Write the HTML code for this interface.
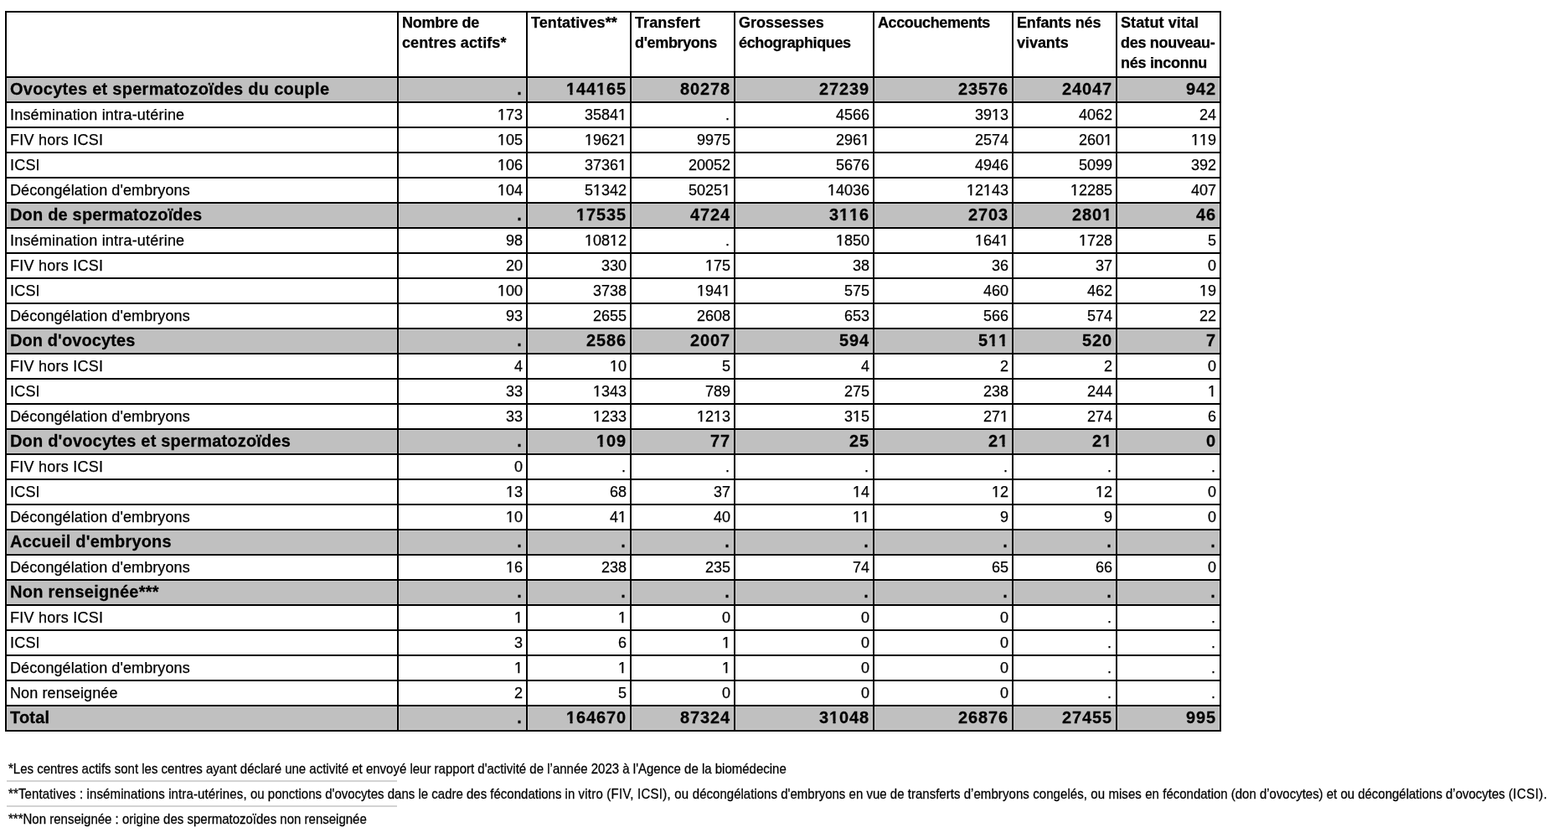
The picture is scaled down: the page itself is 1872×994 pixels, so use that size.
<!DOCTYPE html>
<html lang="fr">
<head>
<meta charset="utf-8">
<title>Tableau AMP</title>
<style>
html,body{margin:0;padding:0;background:#fff;}
body{width:1872px;height:994px;overflow:hidden;position:relative;font-family:"Liberation Sans",Arial,Helvetica,sans-serif;color:#000;-webkit-text-stroke:0.25px #000;}
table.t{position:absolute;left:6px;top:13px;border-collapse:collapse;table-layout:fixed;width:1452px;}
table.t td,table.t th{border:2px solid #000;padding:0 4px 0 4px;font-size:18px;line-height:24px;height:30px;box-sizing:border-box;white-space:nowrap;overflow:hidden;letter-spacing:0.2px;}
table.t th{text-align:left;vertical-align:top;font-weight:bold;height:78px;padding-top:0px;letter-spacing:0.1px;}
table.t td{text-align:right;vertical-align:top;padding-top:2px;}
table.t td.l{text-align:left;}
table.t td.num{letter-spacing:0px;font-kerning:none;}
table.t tr.g td{background:#c0c0c0;box-shadow:inset 0 0 0 1px #c9c9c9;font-weight:bold;font-size:20px;letter-spacing:0.2px;padding-top:1px;}
table.t tr.g td .s{display:inline-block;transform:scaleY(1.04);transform-origin:0 19px;}
table.t td.d{padding-right:5px;}
table.t tr.g td.d{padding-right:4.4px;}
table.t tr.g td.num{letter-spacing:0.88px;}
.o{display:inline-block;}
.f{transform:scaleY(1.0667);transform-origin:0 15px;position:absolute;left:10px;font-size:15px;line-height:20px;white-space:nowrap;letter-spacing:0px;}
.ln{position:absolute;left:8px;width:466px;height:2px;background:#d3d3d3;}
</style>
</head>
<body>
<table class="t">
<colgroup><col style="width:468px"><col style="width:154px"><col style="width:124px"><col style="width:124px"><col style="width:166px"><col style="width:166px"><col style="width:124px"><col style="width:124px"></colgroup>
<thead><tr><th></th><th><span style="letter-spacing:-0.22px">Nombre de</span><br>centres actifs*</th><th>Tentatives**</th><th>Transfert<br><span style="letter-spacing:-0.35px">d'embryons</span></th><th><span style="letter-spacing:-0.03px">Grossesses</span><br><span style="letter-spacing:-0.38px">échographiques</span></th><th><span style="letter-spacing:-0.39px">Accouchements</span></th><th><span style="letter-spacing:-0.16px">Enfants nés</span><br><span style="letter-spacing:-0.04px">vivants</span></th><th>Statut vital<br><span style="letter-spacing:-0.3px">des nouveau-</span><br><span style="letter-spacing:-0.28px">nés inconnu</span></th></tr></thead>
<tbody>
<tr class="g"><td class="l" style="letter-spacing:0.28px"><span class="s">Ovocytes et spermatozoïdes du couple</span></td><td class="num d">.</td><td class="num"><span class="s" style="clip-path:polygon(0px 0px,72.09px 0px,72.09px 24px,48.06px 24px,48.06px 16.1px,43.67px 16.1px,43.67px 24px,40.6px 24px,40.6px 16.1px,36.05px 16.1px,36.05px 24px,12.02px 24px,12.02px 16.1px,7.62px 16.1px,7.62px 24px,4.55px 24px,4.55px 16.1px,0px 16.1px,0px 24px)">144165</span></td><td class="num"><span class="s">80278</span></td><td class="num"><span class="s">27239</span></td><td class="num"><span class="s">23576</span></td><td class="num"><span class="s">24047</span></td><td class="num"><span class="s">942</span></td></tr>
<tr><td class="l">Insémination intra-utérine</td><td class="num"><span class="o" style="clip-path:polygon(0px 0px,30.05px 0px,30.05px 24px,10.02px 24px,10.02px 16px,6.37px 16px,6.37px 24px,4.4px 24px,4.4px 16px,0px 16px,0px 24px)">173</span></td><td class="num"><span class="o" style="clip-path:polygon(0px 0px,50.08px 0px,50.08px 24px,50.08px 16px,46.43px 16px,46.43px 24px,44.46px 24px,44.46px 16px,40.06px 16px,40.06px 24px,0px 24px)">35841</span></td><td class="num d">.</td><td class="num">4566</td><td class="num"><span class="o" style="clip-path:polygon(0px 0px,40.06px 0px,40.06px 24px,30.05px 24px,30.05px 16px,26.4px 16px,26.4px 24px,24.43px 24px,24.43px 16px,20.03px 16px,20.03px 24px,0px 24px)">3913</span></td><td class="num">4062</td><td class="num">24</td></tr>
<tr><td class="l" style="letter-spacing:0.25px">FIV hors ICSI</td><td class="num"><span class="o" style="clip-path:polygon(0px 0px,30.05px 0px,30.05px 24px,10.02px 24px,10.02px 16px,6.37px 16px,6.37px 24px,4.4px 24px,4.4px 16px,0px 16px,0px 24px)">105</span></td><td class="num"><span class="o" style="clip-path:polygon(0px 0px,50.08px 0px,50.08px 24px,50.08px 16px,46.43px 16px,46.43px 24px,44.46px 24px,44.46px 16px,40.06px 16px,40.06px 24px,10.02px 24px,10.02px 16px,6.37px 16px,6.37px 24px,4.4px 24px,4.4px 16px,0px 16px,0px 24px)">19621</span></td><td class="num">9975</td><td class="num"><span class="o" style="clip-path:polygon(0px 0px,40.06px 0px,40.06px 24px,40.06px 16px,36.42px 16px,36.42px 24px,34.45px 24px,34.45px 16px,30.05px 16px,30.05px 24px,0px 24px)">2961</span></td><td class="num">2574</td><td class="num"><span class="o" style="clip-path:polygon(0px 0px,40.06px 0px,40.06px 24px,40.06px 16px,36.42px 16px,36.42px 24px,34.45px 24px,34.45px 16px,30.05px 16px,30.05px 24px,0px 24px)">2601</span></td><td class="num"><span class="o" style="clip-path:polygon(0px 0px,30.05px 0px,30.05px 24px,20.03px 24px,20.03px 16px,16.39px 16px,16.39px 24px,14.42px 24px,14.42px 16px,10.02px 16px,10.02px 24px,10.02px 16px,6.37px 16px,6.37px 24px,4.4px 24px,4.4px 16px,0px 16px,0px 24px)">119</span></td></tr>
<tr><td class="l">ICSI</td><td class="num"><span class="o" style="clip-path:polygon(0px 0px,30.05px 0px,30.05px 24px,10.02px 24px,10.02px 16px,6.37px 16px,6.37px 24px,4.4px 24px,4.4px 16px,0px 16px,0px 24px)">106</span></td><td class="num"><span class="o" style="clip-path:polygon(0px 0px,50.08px 0px,50.08px 24px,50.08px 16px,46.43px 16px,46.43px 24px,44.46px 24px,44.46px 16px,40.06px 16px,40.06px 24px,0px 24px)">37361</span></td><td class="num">20052</td><td class="num">5676</td><td class="num">4946</td><td class="num">5099</td><td class="num">392</td></tr>
<tr><td class="l" style="letter-spacing:0.09px">Décongélation d'embryons</td><td class="num"><span class="o" style="clip-path:polygon(0px 0px,30.05px 0px,30.05px 24px,10.02px 24px,10.02px 16px,6.37px 16px,6.37px 24px,4.4px 24px,4.4px 16px,0px 16px,0px 24px)">104</span></td><td class="num"><span class="o" style="clip-path:polygon(0px 0px,50.08px 0px,50.08px 24px,20.03px 24px,20.03px 16px,16.39px 16px,16.39px 24px,14.42px 24px,14.42px 16px,10.02px 16px,10.02px 24px,0px 24px)">51342</span></td><td class="num"><span class="o" style="clip-path:polygon(0px 0px,50.08px 0px,50.08px 24px,50.08px 16px,46.43px 16px,46.43px 24px,44.46px 24px,44.46px 16px,40.06px 16px,40.06px 24px,0px 24px)">50251</span></td><td class="num"><span class="o" style="clip-path:polygon(0px 0px,50.08px 0px,50.08px 24px,10.02px 24px,10.02px 16px,6.37px 16px,6.37px 24px,4.4px 24px,4.4px 16px,0px 16px,0px 24px)">14036</span></td><td class="num"><span class="o" style="clip-path:polygon(0px 0px,50.08px 0px,50.08px 24px,30.05px 24px,30.05px 16px,26.4px 16px,26.4px 24px,24.43px 24px,24.43px 16px,20.03px 16px,20.03px 24px,10.02px 24px,10.02px 16px,6.37px 16px,6.37px 24px,4.4px 24px,4.4px 16px,0px 16px,0px 24px)">12143</span></td><td class="num"><span class="o" style="clip-path:polygon(0px 0px,50.08px 0px,50.08px 24px,10.02px 24px,10.02px 16px,6.37px 16px,6.37px 24px,4.4px 24px,4.4px 16px,0px 16px,0px 24px)">12285</span></td><td class="num">407</td></tr>
<tr class="g"><td class="l" style="letter-spacing:0.18px"><span class="s">Don de spermatozoïdes</span></td><td class="num d">.</td><td class="num"><span class="s" style="clip-path:polygon(0px 0px,60.08px 0px,60.08px 24px,12.02px 24px,12.02px 16.1px,7.62px 16.1px,7.62px 24px,4.55px 24px,4.55px 16.1px,0px 16.1px,0px 24px)">17535</span></td><td class="num"><span class="s">4724</span></td><td class="num"><span class="s" style="clip-path:polygon(0px 0px,48.06px 0px,48.06px 24px,36.05px 24px,36.05px 16.1px,31.65px 16.1px,31.65px 24px,28.58px 24px,28.58px 16.1px,24.03px 16.1px,24.03px 24px,24.03px 16.1px,19.64px 16.1px,19.64px 24px,16.57px 24px,16.57px 16.1px,12.02px 16.1px,12.02px 24px,0px 24px)">3116</span></td><td class="num"><span class="s">2703</span></td><td class="num"><span class="s" style="clip-path:polygon(0px 0px,48.06px 0px,48.06px 24px,48.06px 16.1px,43.67px 16.1px,43.67px 24px,40.6px 24px,40.6px 16.1px,36.05px 16.1px,36.05px 24px,0px 24px)">2801</span></td><td class="num"><span class="s">46</span></td></tr>
<tr><td class="l">Insémination intra-utérine</td><td class="num">98</td><td class="num"><span class="o" style="clip-path:polygon(0px 0px,50.08px 0px,50.08px 24px,40.06px 24px,40.06px 16px,36.42px 16px,36.42px 24px,34.45px 24px,34.45px 16px,30.05px 16px,30.05px 24px,10.02px 24px,10.02px 16px,6.37px 16px,6.37px 24px,4.4px 24px,4.4px 16px,0px 16px,0px 24px)">10812</span></td><td class="num d">.</td><td class="num"><span class="o" style="clip-path:polygon(0px 0px,40.06px 0px,40.06px 24px,10.02px 24px,10.02px 16px,6.37px 16px,6.37px 24px,4.4px 24px,4.4px 16px,0px 16px,0px 24px)">1850</span></td><td class="num"><span class="o" style="clip-path:polygon(0px 0px,40.06px 0px,40.06px 24px,40.06px 16px,36.42px 16px,36.42px 24px,34.45px 24px,34.45px 16px,30.05px 16px,30.05px 24px,10.02px 24px,10.02px 16px,6.37px 16px,6.37px 24px,4.4px 24px,4.4px 16px,0px 16px,0px 24px)">1641</span></td><td class="num"><span class="o" style="clip-path:polygon(0px 0px,40.06px 0px,40.06px 24px,10.02px 24px,10.02px 16px,6.37px 16px,6.37px 24px,4.4px 24px,4.4px 16px,0px 16px,0px 24px)">1728</span></td><td class="num">5</td></tr>
<tr><td class="l" style="letter-spacing:0.25px">FIV hors ICSI</td><td class="num">20</td><td class="num">330</td><td class="num"><span class="o" style="clip-path:polygon(0px 0px,30.05px 0px,30.05px 24px,10.02px 24px,10.02px 16px,6.37px 16px,6.37px 24px,4.4px 24px,4.4px 16px,0px 16px,0px 24px)">175</span></td><td class="num">38</td><td class="num">36</td><td class="num">37</td><td class="num">0</td></tr>
<tr><td class="l">ICSI</td><td class="num"><span class="o" style="clip-path:polygon(0px 0px,30.05px 0px,30.05px 24px,10.02px 24px,10.02px 16px,6.37px 16px,6.37px 24px,4.4px 24px,4.4px 16px,0px 16px,0px 24px)">100</span></td><td class="num">3738</td><td class="num"><span class="o" style="clip-path:polygon(0px 0px,40.06px 0px,40.06px 24px,40.06px 16px,36.42px 16px,36.42px 24px,34.45px 24px,34.45px 16px,30.05px 16px,30.05px 24px,10.02px 24px,10.02px 16px,6.37px 16px,6.37px 24px,4.4px 24px,4.4px 16px,0px 16px,0px 24px)">1941</span></td><td class="num">575</td><td class="num">460</td><td class="num">462</td><td class="num"><span class="o" style="clip-path:polygon(0px 0px,20.03px 0px,20.03px 24px,10.02px 24px,10.02px 16px,6.37px 16px,6.37px 24px,4.4px 24px,4.4px 16px,0px 16px,0px 24px)">19</span></td></tr>
<tr><td class="l" style="letter-spacing:0.09px">Décongélation d'embryons</td><td class="num">93</td><td class="num">2655</td><td class="num">2608</td><td class="num">653</td><td class="num">566</td><td class="num">574</td><td class="num">22</td></tr>
<tr class="g"><td class="l" style="letter-spacing:0.09px"><span class="s">Don d'ovocytes</span></td><td class="num d">.</td><td class="num"><span class="s">2586</span></td><td class="num"><span class="s">2007</span></td><td class="num"><span class="s">594</span></td><td class="num"><span class="s" style="clip-path:polygon(0px 0px,36.05px 0px,36.05px 24px,36.05px 16.1px,31.65px 16.1px,31.65px 24px,28.58px 24px,28.58px 16.1px,24.03px 16.1px,24.03px 24px,24.03px 16.1px,19.64px 16.1px,19.64px 24px,16.57px 24px,16.57px 16.1px,12.02px 16.1px,12.02px 24px,0px 24px)">511</span></td><td class="num"><span class="s">520</span></td><td class="num"><span class="s">7</span></td></tr>
<tr><td class="l" style="letter-spacing:0.25px">FIV hors ICSI</td><td class="num">4</td><td class="num"><span class="o" style="clip-path:polygon(0px 0px,20.03px 0px,20.03px 24px,10.02px 24px,10.02px 16px,6.37px 16px,6.37px 24px,4.4px 24px,4.4px 16px,0px 16px,0px 24px)">10</span></td><td class="num">5</td><td class="num">4</td><td class="num">2</td><td class="num">2</td><td class="num">0</td></tr>
<tr><td class="l">ICSI</td><td class="num">33</td><td class="num"><span class="o" style="clip-path:polygon(0px 0px,40.06px 0px,40.06px 24px,10.02px 24px,10.02px 16px,6.37px 16px,6.37px 24px,4.4px 24px,4.4px 16px,0px 16px,0px 24px)">1343</span></td><td class="num">789</td><td class="num">275</td><td class="num">238</td><td class="num">244</td><td class="num"><span class="o" style="clip-path:polygon(0px 0px,10.02px 0px,10.02px 24px,10.02px 16px,6.37px 16px,6.37px 24px,4.4px 24px,4.4px 16px,0px 16px,0px 24px)">1</span></td></tr>
<tr><td class="l" style="letter-spacing:0.09px">Décongélation d'embryons</td><td class="num">33</td><td class="num"><span class="o" style="clip-path:polygon(0px 0px,40.06px 0px,40.06px 24px,10.02px 24px,10.02px 16px,6.37px 16px,6.37px 24px,4.4px 24px,4.4px 16px,0px 16px,0px 24px)">1233</span></td><td class="num"><span class="o" style="clip-path:polygon(0px 0px,40.06px 0px,40.06px 24px,30.05px 24px,30.05px 16px,26.4px 16px,26.4px 24px,24.43px 24px,24.43px 16px,20.03px 16px,20.03px 24px,10.02px 24px,10.02px 16px,6.37px 16px,6.37px 24px,4.4px 24px,4.4px 16px,0px 16px,0px 24px)">1213</span></td><td class="num"><span class="o" style="clip-path:polygon(0px 0px,30.05px 0px,30.05px 24px,20.03px 24px,20.03px 16px,16.39px 16px,16.39px 24px,14.42px 24px,14.42px 16px,10.02px 16px,10.02px 24px,0px 24px)">315</span></td><td class="num"><span class="o" style="clip-path:polygon(0px 0px,30.05px 0px,30.05px 24px,30.05px 16px,26.4px 16px,26.4px 24px,24.43px 24px,24.43px 16px,20.03px 16px,20.03px 24px,0px 24px)">271</span></td><td class="num">274</td><td class="num">6</td></tr>
<tr class="g"><td class="l" style="letter-spacing:0.18px"><span class="s">Don d'ovocytes et spermatozoïdes</span></td><td class="num d">.</td><td class="num"><span class="s" style="clip-path:polygon(0px 0px,36.05px 0px,36.05px 24px,12.02px 24px,12.02px 16.1px,7.62px 16.1px,7.62px 24px,4.55px 24px,4.55px 16.1px,0px 16.1px,0px 24px)">109</span></td><td class="num"><span class="s">77</span></td><td class="num"><span class="s">25</span></td><td class="num"><span class="s" style="clip-path:polygon(0px 0px,24.03px 0px,24.03px 24px,24.03px 16.1px,19.64px 16.1px,19.64px 24px,16.57px 24px,16.57px 16.1px,12.02px 16.1px,12.02px 24px,0px 24px)">21</span></td><td class="num"><span class="s" style="clip-path:polygon(0px 0px,24.03px 0px,24.03px 24px,24.03px 16.1px,19.64px 16.1px,19.64px 24px,16.57px 24px,16.57px 16.1px,12.02px 16.1px,12.02px 24px,0px 24px)">21</span></td><td class="num"><span class="s">0</span></td></tr>
<tr><td class="l" style="letter-spacing:0.25px">FIV hors ICSI</td><td class="num">0</td><td class="num d">.</td><td class="num d">.</td><td class="num d">.</td><td class="num d">.</td><td class="num d">.</td><td class="num d">.</td></tr>
<tr><td class="l">ICSI</td><td class="num"><span class="o" style="clip-path:polygon(0px 0px,20.03px 0px,20.03px 24px,10.02px 24px,10.02px 16px,6.37px 16px,6.37px 24px,4.4px 24px,4.4px 16px,0px 16px,0px 24px)">13</span></td><td class="num">68</td><td class="num">37</td><td class="num"><span class="o" style="clip-path:polygon(0px 0px,20.03px 0px,20.03px 24px,10.02px 24px,10.02px 16px,6.37px 16px,6.37px 24px,4.4px 24px,4.4px 16px,0px 16px,0px 24px)">14</span></td><td class="num"><span class="o" style="clip-path:polygon(0px 0px,20.03px 0px,20.03px 24px,10.02px 24px,10.02px 16px,6.37px 16px,6.37px 24px,4.4px 24px,4.4px 16px,0px 16px,0px 24px)">12</span></td><td class="num"><span class="o" style="clip-path:polygon(0px 0px,20.03px 0px,20.03px 24px,10.02px 24px,10.02px 16px,6.37px 16px,6.37px 24px,4.4px 24px,4.4px 16px,0px 16px,0px 24px)">12</span></td><td class="num">0</td></tr>
<tr><td class="l" style="letter-spacing:0.09px">Décongélation d'embryons</td><td class="num"><span class="o" style="clip-path:polygon(0px 0px,20.03px 0px,20.03px 24px,10.02px 24px,10.02px 16px,6.37px 16px,6.37px 24px,4.4px 24px,4.4px 16px,0px 16px,0px 24px)">10</span></td><td class="num"><span class="o" style="clip-path:polygon(0px 0px,20.03px 0px,20.03px 24px,20.03px 16px,16.39px 16px,16.39px 24px,14.42px 24px,14.42px 16px,10.02px 16px,10.02px 24px,0px 24px)">41</span></td><td class="num">40</td><td class="num"><span class="o" style="clip-path:polygon(0px 0px,20.03px 0px,20.03px 24px,20.03px 16px,16.39px 16px,16.39px 24px,14.42px 24px,14.42px 16px,10.02px 16px,10.02px 24px,10.02px 16px,6.37px 16px,6.37px 24px,4.4px 24px,4.4px 16px,0px 16px,0px 24px)">11</span></td><td class="num">9</td><td class="num">9</td><td class="num">0</td></tr>
<tr class="g"><td class="l" style="letter-spacing:0.2px"><span class="s">Accueil d'embryons</span></td><td class="num d">.</td><td class="num d">.</td><td class="num d">.</td><td class="num d">.</td><td class="num d">.</td><td class="num d">.</td><td class="num d">.</td></tr>
<tr><td class="l" style="letter-spacing:0.09px">Décongélation d'embryons</td><td class="num"><span class="o" style="clip-path:polygon(0px 0px,20.03px 0px,20.03px 24px,10.02px 24px,10.02px 16px,6.37px 16px,6.37px 24px,4.4px 24px,4.4px 16px,0px 16px,0px 24px)">16</span></td><td class="num">238</td><td class="num">235</td><td class="num">74</td><td class="num">65</td><td class="num">66</td><td class="num">0</td></tr>
<tr class="g"><td class="l" style="letter-spacing:0.26px"><span class="s">Non renseignée***</span></td><td class="num d">.</td><td class="num d">.</td><td class="num d">.</td><td class="num d">.</td><td class="num d">.</td><td class="num d">.</td><td class="num d">.</td></tr>
<tr><td class="l" style="letter-spacing:0.25px">FIV hors ICSI</td><td class="num"><span class="o" style="clip-path:polygon(0px 0px,10.02px 0px,10.02px 24px,10.02px 16px,6.37px 16px,6.37px 24px,4.4px 24px,4.4px 16px,0px 16px,0px 24px)">1</span></td><td class="num"><span class="o" style="clip-path:polygon(0px 0px,10.02px 0px,10.02px 24px,10.02px 16px,6.37px 16px,6.37px 24px,4.4px 24px,4.4px 16px,0px 16px,0px 24px)">1</span></td><td class="num">0</td><td class="num">0</td><td class="num">0</td><td class="num d">.</td><td class="num d">.</td></tr>
<tr><td class="l">ICSI</td><td class="num">3</td><td class="num">6</td><td class="num"><span class="o" style="clip-path:polygon(0px 0px,10.02px 0px,10.02px 24px,10.02px 16px,6.37px 16px,6.37px 24px,4.4px 24px,4.4px 16px,0px 16px,0px 24px)">1</span></td><td class="num">0</td><td class="num">0</td><td class="num d">.</td><td class="num d">.</td></tr>
<tr><td class="l" style="letter-spacing:0.09px">Décongélation d'embryons</td><td class="num"><span class="o" style="clip-path:polygon(0px 0px,10.02px 0px,10.02px 24px,10.02px 16px,6.37px 16px,6.37px 24px,4.4px 24px,4.4px 16px,0px 16px,0px 24px)">1</span></td><td class="num"><span class="o" style="clip-path:polygon(0px 0px,10.02px 0px,10.02px 24px,10.02px 16px,6.37px 16px,6.37px 24px,4.4px 24px,4.4px 16px,0px 16px,0px 24px)">1</span></td><td class="num"><span class="o" style="clip-path:polygon(0px 0px,10.02px 0px,10.02px 24px,10.02px 16px,6.37px 16px,6.37px 24px,4.4px 24px,4.4px 16px,0px 16px,0px 24px)">1</span></td><td class="num">0</td><td class="num">0</td><td class="num d">.</td><td class="num d">.</td></tr>
<tr><td class="l" style="letter-spacing:0.1px">Non renseignée</td><td class="num">2</td><td class="num">5</td><td class="num">0</td><td class="num">0</td><td class="num">0</td><td class="num d">.</td><td class="num d">.</td></tr>
<tr class="g"><td class="l"><span class="s">Total</span></td><td class="num d">.</td><td class="num"><span class="s" style="clip-path:polygon(0px 0px,72.09px 0px,72.09px 24px,12.02px 24px,12.02px 16.1px,7.62px 16.1px,7.62px 24px,4.55px 24px,4.55px 16.1px,0px 16.1px,0px 24px)">164670</span></td><td class="num"><span class="s">87324</span></td><td class="num"><span class="s" style="clip-path:polygon(0px 0px,60.08px 0px,60.08px 24px,24.03px 24px,24.03px 16.1px,19.64px 16.1px,19.64px 24px,16.57px 24px,16.57px 16.1px,12.02px 16.1px,12.02px 24px,0px 24px)">31048</span></td><td class="num"><span class="s">26876</span></td><td class="num"><span class="s">27455</span></td><td class="num"><span class="s">995</span></td></tr>
</tbody></table>
<div class="f" style="top:908px">*Les centres actifs sont les centres ayant déclaré une activité et envoyé leur rapport d'activité de l’année 2023 à l'Agence de la biomédecine</div>
<div class="f" style="top:938px"><span style="letter-spacing:0.122px">**Tentatives : inséminations intra-utérines, </span>ou ponctions d'ovocytes dans le cadre des fécondations in <span style="letter-spacing:0.24px">vitro (FIV, ICSI), ou </span><span style="letter-spacing:0.015px">décongélations d'embryons en vue de transferts </span><span style="letter-spacing:0.076px">d’embryons congelés, ou mises en </span><span style="letter-spacing:-0.016px">fécondation (don d’ovocytes) et ou décongélations d’ovocytes </span><span style="letter-spacing:0.45px">(ICSI).</span></div>
<div class="f" style="top:968px">***Non renseignée : origine des spermatozoïdes non renseignée</div>
<div class="ln" style="top:931px"></div>
<div class="ln" style="top:961px"></div>
</body></html>
